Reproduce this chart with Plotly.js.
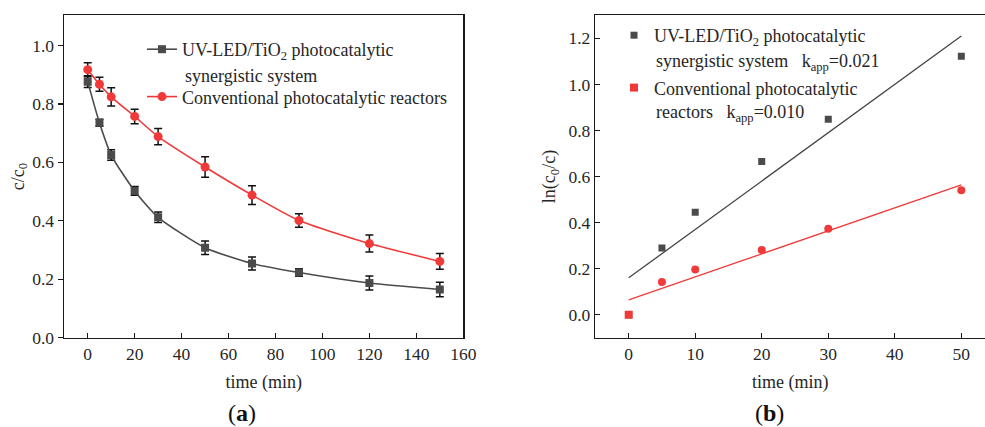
<!DOCTYPE html>
<html>
<head>
<meta charset="utf-8">
<script src="https://cdn.plot.ly/plotly-3.0.1.min.js"></script>
<style>
  html, body { margin: 0; padding: 0; background: #ffffff; }
  #chart { width: 985px; height: 427px; }
</style>
</head>
<body>
<div id="chart"></div>
<script>
// (a) normalised concentration c/c0 versus irradiation time
const timeA = [0, 5, 10, 20, 30, 50, 70, 90, 120, 150];
const ledA = [0.876, 0.735, 0.625, 0.502, 0.412, 0.308, 0.254, 0.223, 0.187, 0.165];
const ledErrA = [0.020, 0.012, 0.018, 0.015, 0.018, 0.023, 0.022, 0.013, 0.024, 0.025];
const convA = [0.917, 0.867, 0.824, 0.757, 0.688, 0.584, 0.488, 0.401, 0.322, 0.261];
const convErrA = [0.024, 0.024, 0.031, 0.025, 0.028, 0.035, 0.032, 0.023, 0.029, 0.027];

// (b) pseudo-first-order kinetics ln(c0/c) versus time
const timeB = [0, 5, 10, 20, 30, 50];
const ledB = [0, 0.290, 0.445, 0.665, 0.849, 1.122];
const convB = [0, 0.142, 0.196, 0.281, 0.373, 0.540];
const fitT = [0, 50];
const kapp = [0.021, 0.010];
const fitIntercept = [0.160, 0.064];

// legend / annotation labels
const ledName = 'UV-LED/TiO<sub>2</sub> photocatalytic';
const ledName2 = 'synergistic system';
const convName = 'Conventional photocatalytic reactors';
const ledNameB2 = 'synergistic system   k<sub>app</sub>=' + kapp[0].toFixed(3);
const convNameB = 'Conventional photocatalytic';
const convNameB2 = 'reactors   k<sub>app</sub>=' + kapp[1].toFixed(3);

const W = 985, H = 427;
const px = v => v / W;
const py = v => 1 - v / H;

const GRAY = '#4b4b4b';
const RED = '#f03a3a';
const INK = '#262626';
const FONT = 'Liberation Serif, Times New Roman, serif';

const errStyle = arr => ({ type: 'data', array: arr, visible: true, color: '#111111', thickness: 1.5, width: 4 });

const traces = [
  {
    x: timeA, y: ledA, xaxis: 'x', yaxis: 'y', type: 'scatter', mode: 'lines+markers',
    name: ledName, legend: 'legend', legendgroup: 'a1',
    line: { color: GRAY, width: 1.6, shape: 'spline', smoothing: 0.6 },
    marker: { symbol: 'square', size: 8, color: GRAY },
    error_y: errStyle(ledErrA)
  },
  {
    x: timeA, y: convA, xaxis: 'x', yaxis: 'y', type: 'scatter', mode: 'lines+markers',
    name: convName, legend: 'legend', legendgroup: 'a2',
    line: { color: RED, width: 1.6, shape: 'spline', smoothing: 0.6 },
    marker: { symbol: 'circle', size: 9, color: RED },
    error_y: errStyle(convErrA)
  },
  {
    x: fitT, y: fitT.map(t => fitIntercept[0] + kapp[0] * t), xaxis: 'x2', yaxis: 'y2',
    type: 'scatter', mode: 'lines', showlegend: false, hoverinfo: 'skip',
    line: { color: '#444444', width: 1.3 }
  },
  {
    x: fitT, y: fitT.map(t => fitIntercept[1] + kapp[1] * t), xaxis: 'x2', yaxis: 'y2',
    type: 'scatter', mode: 'lines', showlegend: false, hoverinfo: 'skip',
    line: { color: RED, width: 1.3 }
  },
  {
    x: timeB, y: ledB, xaxis: 'x2', yaxis: 'y2', type: 'scatter', mode: 'markers',
    name: ledName, legend: 'legend2', legendgroup: 'b1',
    marker: { symbol: 'square', size: 7, color: GRAY }
  },
  {
    x: timeB, y: convB, xaxis: 'x2', yaxis: 'y2', type: 'scatter', mode: 'markers',
    name: convNameB, legend: 'legend2', legendgroup: 'b2',
    marker: { symbol: timeB.map((t, i) => i === 0 ? 'square' : 'circle'), size: 8, color: RED }
  }
];

const axisBase = {
  showgrid: false, zeroline: false, showline: true, linecolor: '#1a1a1a', linewidth: 1.5,
  ticklen: 5, tickwidth: 1.3, tickcolor: '#1a1a1a',
  tickfont: { family: FONT, size: 17.5, color: INK },
  fixedrange: true
};

const ydom = [py(337.7), py(15.3)];

const layout = {
  width: W, height: H,
  margin: { l: 0, r: 0, t: 0, b: 0 },
  paper_bgcolor: '#ffffff', plot_bgcolor: '#ffffff',
  showlegend: true,
  font: { family: FONT, color: INK },
  xaxis: Object.assign({}, axisBase, {
    domain: [px(64), px(463.3)], range: [-10.1, 160], anchor: 'y',
    tickvals: [0, 20, 40, 60, 80, 100, 120, 140, 160], ticks: 'inside', mirror: true,
    title: { text: 'time (min)', font: { family: FONT, size: 18, color: INK }, standoff: 12 }
  }),
  yaxis: Object.assign({}, axisBase, {
    domain: ydom, range: [0, 1.103], anchor: 'x',
    tickvals: [0, 0.2, 0.4, 0.6, 0.8, 1.0], tickformat: '.1f', ticks: 'outside', mirror: true,
    title: { text: 'c/c<sub>0</sub>', font: { family: FONT, size: 18, color: INK }, standoff: 3 }
  }),
  xaxis2: Object.assign({}, axisBase, {
    domain: [px(595.3), 1], range: [-5.02, 53.56], anchor: 'y2',
    tickvals: [0, 10, 20, 30, 40, 50], ticks: 'inside', mirror: true,
    title: { text: 'time (min)', font: { family: FONT, size: 18, color: INK }, standoff: 12 }
  }),
  yaxis2: Object.assign({}, axisBase, {
    domain: ydom, range: [-0.1, 1.3], anchor: 'x2',
    tickvals: [0, 0.2, 0.4, 0.6, 0.8, 1.0, 1.2], tickformat: '.1f', ticks: 'inside', mirror: false,
    title: { text: 'ln(c<sub>0</sub>/c)', font: { family: FONT, size: 18, color: INK }, standoff: 8 }
  }),
  legend: {
    x: px(142), y: py(31), xanchor: 'left', yanchor: 'top',
    bgcolor: 'rgba(0,0,0,0)', borderwidth: 0, traceorder: 'grouped', tracegroupgap: 21,
    font: { family: FONT, size: 18, color: INK }
  },
  legend2: {
    x: px(614), y: py(17), xanchor: 'left', yanchor: 'top',
    bgcolor: 'rgba(0,0,0,0)', borderwidth: 0, traceorder: 'grouped', tracegroupgap: 26,
    font: { family: FONT, size: 18, color: INK }
  },
  annotations: [
    { xref: 'paper', yref: 'paper', x: px(182.7), y: py(76), xanchor: 'left', yanchor: 'middle',
      text: ledName2, showarrow: false, font: { family: FONT, size: 18, color: INK } },
    { xref: 'paper', yref: 'paper', x: px(654), y: py(63), xanchor: 'left', yanchor: 'middle',
      text: ledNameB2, showarrow: false, font: { family: FONT, size: 18, color: INK } },
    { xref: 'paper', yref: 'paper', x: px(654), y: py(113), xanchor: 'left', yanchor: 'middle',
      text: convNameB2, showarrow: false, font: { family: FONT, size: 18, color: INK } },
    { xref: 'paper', yref: 'paper', x: px(242), y: py(413), xanchor: 'center', yanchor: 'middle',
      text: '(<b>a</b>)', showarrow: false, font: { family: FONT, size: 24, color: '#111111' } },
    { xref: 'paper', yref: 'paper', x: px(769), y: py(413), xanchor: 'center', yanchor: 'middle',
      text: '(<b>b</b>)', showarrow: false, font: { family: FONT, size: 24, color: '#111111' } }
  ]
};

Plotly.newPlot('chart', traces, layout, { displayModeBar: false, staticPlot: true });
</script>
</body>
</html>
